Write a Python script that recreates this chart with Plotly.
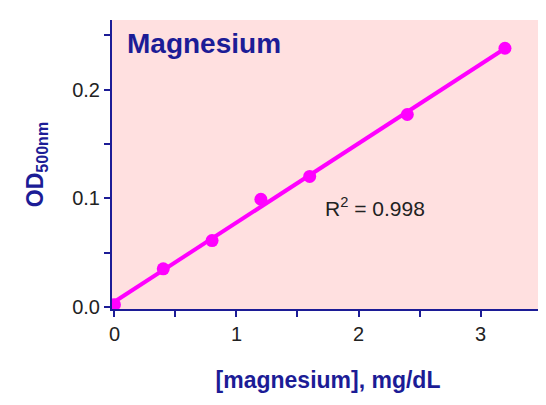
import plotly.graph_objects as go
import numpy as np

conc = [0, 0.4, 0.8, 1.2, 1.6, 2.4, 3.2]
od = [0.002, 0.035, 0.061, 0.099, 0.120, 0.177, 0.238]
r2_text = "R<sup>2</sup> = 0.998"

navy = "#1c1c96"
magenta = "#ff00ff"

slope, icpt = np.polyfit(conc, od, 1)
xl = [conc[0], conc[-1]]
yl = [slope * x + icpt for x in xl]

fig = go.Figure()
fig.add_trace(go.Scatter(x=xl, y=yl, mode="lines", line=dict(color=magenta, width=4)))
fig.add_trace(go.Scatter(x=conc, y=od, mode="markers", marker=dict(color=magenta, size=13)))

axis = dict(showline=True, linecolor=navy, linewidth=2, ticks="outside", tickcolor=navy,
            tickwidth=2, ticklen=6, showgrid=False, zeroline=False,
            tickfont=dict(family="Liberation Sans", size=20, color="#222"))
fig.update_xaxes(range=[-0.02, 3.52], tickvals=[0, 1, 2, 3],
                 minor=dict(tickvals=[0.5, 1.5, 2.5, 3.5], ticks="outside", ticklen=6, tickcolor=navy, tickwidth=2),
                 title=dict(text="<b>[magnesium], mg/dL</b>", standoff=28,
                            font=dict(family="Liberation Sans", size=23, color=navy)),
                 **axis)
fig.update_yaxes(range=[-0.002, 0.264], tickvals=[0.0, 0.1, 0.2], tickformat=".1f",
                 minor=dict(tickvals=[0.05, 0.15, 0.25], ticks="outside", ticklen=6, tickcolor=navy, tickwidth=2),
                 title=dict(text="<b>OD<sub>500nm</sub></b>", standoff=22,
                            font=dict(family="Liberation Sans", size=23, color=navy)),
                 **axis)
fig.add_annotation(x=0.03, y=0.98, xref="paper", yref="paper", xanchor="left", yanchor="top",
                   text="<b>Magnesium</b>", showarrow=False,
                   font=dict(family="Liberation Sans", size=28, color=navy))
fig.add_annotation(x=1.71, y=0.092, text=r2_text, showarrow=False, xanchor="left",
                   font=dict(family="Liberation Sans", size=21, color="#222"))
fig.update_layout(width=546, height=405, showlegend=False, plot_bgcolor="#ffe0e0",
                  paper_bgcolor="white", margin=dict(l=104, r=10, t=12, b=104))
fig.write_html("out.html")
